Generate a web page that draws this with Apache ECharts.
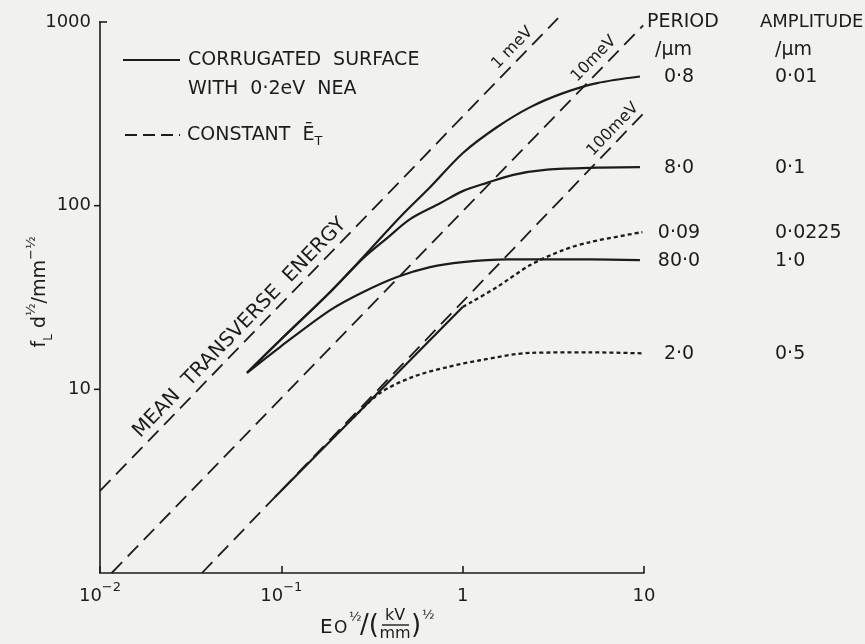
<!DOCTYPE html>
<html>
<head>
<meta charset="utf-8">
<script src="https://cdn.jsdelivr.net/npm/echarts@6/dist/echarts.min.js"></script>
<style>
  html, body { margin: 0; padding: 0; background: #f1f1ef; }
  #chart { width: 865px; height: 644px; }
</style>
</head>
<body>
<div id="chart"></div>
<script>
// Focusing frequency f_L d^1/2 against field E0^1/2, log-log.

// Axis ticks
const xTicks = [0.01, 0.1, 1, 10];
const xTickText = ['{b|10}{s|\u22122}', '{b|10}{s|\u22121}', '{b|1}', '{b|10}'];
const yTicks = [1, 10, 100, 1000];
const yTickText = ['', '10', '100', '1000'];
const yOuterTicks = [10, 100];

// Lines of constant mean transverse energy (end points)
const eT1meV = [[0.01, 2.8], [3.36, 1050]];
const eT10meV = [[0.0116, 1], [9.9, 960]];
const eT100meV = [[0.0365, 1], [10, 320]];
const eTNames = ['1 meV', '10meV', '100meV'];

// Corrugated surface with 0.2 eV NEA (solid)
const curvePeriod08 = [[0.0647, 12.3], [0.0984, 18.5], [0.186, 33.9], [0.283, 52.5], [0.452, 86.7],
  [0.661, 126], [1.0, 193], [1.55, 268], [2.36, 344], [3.58, 410], [5.51, 465], [9.5, 505]];
const curvePeriod8 = [[0.0647, 12.3], [0.0984, 18.5], [0.186, 33.9], [0.283, 51.8], [0.383, 66.6],
  [0.513, 84.5], [0.75, 103], [1.0, 120], [1.36, 133], [1.9, 147], [2.92, 157], [5.51, 161], [9.5, 162]];
const curvePeriod80 = [[0.0647, 12.3], [0.0984, 17.0], [0.186, 27.0], [0.283, 33.9], [0.435, 40.9],
  [0.661, 46.3], [1.0, 49.3], [1.76, 51.0], [5.05, 51.0], [9.5, 50.5]];

// Shared rising part of the two dotted curves, then their branches
const commonRise = [[0.0923, 2.59], [1.0, 28.1]];
const curvePeriod009 = [[1.0, 28.1], [1.1, 29.6], [1.55, 36.1], [2.36, 47.5], [3.58, 57.3], [5.05, 63.4], [9.8, 71.8]];
const curvePeriod2 = [[0.248, 6.96], [0.35, 9.55], [0.532, 11.7], [0.82, 13.2], [1.25, 14.4], [2.36, 15.8], [5.05, 15.9], [9.8, 15.7]];

// Table at the right-hand end of each curve
const periods = ['0\u00b78', '8\u00b70', '0\u00b709', '80\u00b70', '2\u00b70'];
const amplitudes = ['0\u00b701', '0\u00b71', '0\u00b70225', '1\u00b70', '0\u00b75'];

const FONT = '"DejaVu Sans", "Liberation Sans", sans-serif';
const INK = '#1c1c1c';

const chart = echarts.init(document.getElementById('chart'));

function dashed(name, data) {
  return {
    name, type: 'line', data, symbol: 'none', clip: false, silent: true,
    lineStyle: { color: INK, width: 1.8, type: [15, 8] }
  };
}
function solid(name, data, smooth) {
  return {
    name, type: 'line', data, symbol: 'none', silent: true,
    smooth: smooth ? 0.3 : false,
    lineStyle: { color: INK, width: 2.2, type: 'solid' }
  };
}
function dotted(name, data) {
  return {
    name, type: 'line', data, symbol: 'none', silent: true,
    smooth: 0.3,
    lineStyle: { color: INK, width: 2.3, type: [4, 3] }
  };
}

const curves = [curvePeriod08, curvePeriod8, curvePeriod009, curvePeriod80, curvePeriod2];

chart.setOption({
  animation: false,
  backgroundColor: '#f1f1ef',
  grid: { left: 100, right: 221, top: 22, bottom: 71, containLabel: false },
  xAxis: {
    type: 'log', logBase: 10, min: 0.01, max: 10,
    axisLine: { lineStyle: { color: INK, width: 1.6 } },
    axisTick: { inside: true, length: 7, lineStyle: { color: INK, width: 1.6 } },
    splitLine: { show: false },
    axisLabel: {
      margin: 8, color: INK, fontFamily: FONT,
      formatter: v => {
        const i = xTicks.findIndex(t => Math.abs(Math.log10(t) - Math.log10(v)) < 1e-6);
        return i >= 0 ? xTickText[i] : '';
      },
      rich: {
        b: { fontSize: 18, fontFamily: FONT, color: INK, lineHeight: 24, verticalAlign: 'bottom' },
        s: { fontSize: 13, fontFamily: FONT, color: INK, lineHeight: 14, verticalAlign: 'top' }
      }
    }
  },
  yAxis: {
    type: 'log', logBase: 10, min: 1, max: 1000,
    axisLine: { lineStyle: { color: INK, width: 1.6 } },
    axisTick: { show: false },
    splitLine: { show: false },
    axisLabel: {
      margin: 9, color: INK, fontFamily: FONT, fontSize: 18,
      formatter: v => {
        const i = yTicks.findIndex(t => Math.abs(Math.log10(t) - Math.log10(v)) < 1e-6);
        return i >= 0 ? yTickText[i] : '';
      }
    }
  },
  series: [
    dashed(eTNames[0], eT1meV),
    dashed(eTNames[1], eT10meV),
    dashed(eTNames[2], eT100meV),
    solid('0.8 / 0.01', curvePeriod08, true),
    solid('8.0 / 0.1', curvePeriod8, true),
    solid('80.0 / 1.0', curvePeriod80, true),
    solid('rise', commonRise, false),
    dotted('0.09 / 0.0225', curvePeriod009),
    dotted('2.0 / 0.5', curvePeriod2)
  ]
});

// Point on a straight (log-log) line at a given x
function onLine(pts, x) {
  const [a, b] = pts;
  const t = (Math.log10(x) - Math.log10(a[0])) / (Math.log10(b[0]) - Math.log10(a[0]));
  return [x, Math.pow(10, Math.log10(a[1]) + t * (Math.log10(b[1]) - Math.log10(a[1])))];
}
const toPx = p => chart.convertToPixel({ gridIndex: 0 }, p);

// Text laid along a line, offset to its upper-left side
function alongLine(pts, x, offset, text, fontSize) {
  const p0 = toPx(pts[0]), p1 = toPx(pts[1]);
  const ang = Math.atan2(p0[1] - p1[1], p1[0] - p0[0]);
  const c = toPx(onLine(pts, x));
  const nx = -Math.sin(ang), ny = -Math.cos(ang);
  return {
    type: 'text', x: c[0] + nx * offset, y: c[1] + ny * offset, rotation: ang, silent: true,
    style: { text, fill: INK, font: fontSize + 'px ' + FONT, align: 'center', verticalAlign: 'middle' }
  };
}

function label(text, x, y, size, align) {
  return {
    type: 'text', x, y, silent: true,
    style: { text, fill: INK, font: (size || 18) + 'px ' + FONT, align: align || 'left', verticalAlign: 'middle' }
  };
}

const g = [];

// Y axis ticks: outward at 10 and 100, a short inward cap at 1000
yOuterTicks.forEach(v => {
  const p = toPx([0.01, v]);
  g.push({ type: 'line', silent: true, shape: { x1: p[0] - 6, y1: p[1], x2: p[0], y2: p[1] }, style: { stroke: INK, lineWidth: 1.6 } });
});
const axisTop = toPx([0.01, 1000]);
g.push({ type: 'line', silent: true, shape: { x1: axisTop[0] - 1, y1: axisTop[1], x2: axisTop[0] + 7, y2: axisTop[1] }, style: { stroke: INK, lineWidth: 1.6 } });

// Line labels
g.push(alongLine(eT1meV, 0.0664, 13, 'MEAN  TRANSVERSE  ENERGY', 20));
g.push(alongLine(eT1meV, 2.1, 12, eTNames[0], 16));
g.push(alongLine(eT10meV, 5.9, 12, eTNames[1], 16));
g.push(alongLine(eT100meV, 7.45, 11, eTNames[2], 16));

// Legend
g.push({ type: 'line', silent: true, shape: { x1: 123, y1: 60, x2: 180, y2: 60 }, style: { stroke: INK, lineWidth: 2.2 } });
g.push(label('CORRUGATED  SURFACE', 188, 60, 19));
g.push(label('WITH  0\u00b72eV  NEA', 188, 89, 19));
g.push({ type: 'line', silent: true, shape: { x1: 125, y1: 135, x2: 180, y2: 135 }, style: { stroke: INK, lineWidth: 2, lineDash: [12, 6] } });
g.push({
  type: 'text', x: 187, y: 135, silent: true,
  style: {
    text: '{a|CONSTANT  \u0112}{t|T}', align: 'left', verticalAlign: 'middle',
    rich: {
      a: { fontSize: 19, fontFamily: FONT, fill: INK, lineHeight: 26, verticalAlign: 'middle' },
      t: { fontSize: 13, fontFamily: FONT, fill: INK, lineHeight: 14, verticalAlign: 'bottom' }
    }
  }
});

// Table header
g.push(label('PERIOD', 647, 22, 19));
g.push(label('AMPLITUDE', 760, 22, 18));
g.push(label('/\u00b5m', 655, 50, 19));
g.push(label('/\u00b5m', 775, 50, 19));

// Table rows placed at the end of each curve
curves.forEach((c, i) => {
  const end = toPx(c[c.length - 1]);
  g.push(label(periods[i], 679, end[1] + 1, 19, 'center'));
  g.push(label(amplitudes[i], 775, end[1] + 1, 19, 'left'));
});

// Y axis title
g.push({
  type: 'text', x: 40, y: 292, rotation: Math.PI / 2, silent: true,
  style: {
    text: '{a|f}{sub|L}{a| d}{sup|\u00bd}{a|/mm}{sup|\u2212\u00bd}', align: 'center', verticalAlign: 'middle',
    rich: {
      a: { fontSize: 19, fontFamily: FONT, fill: INK, lineHeight: 30, verticalAlign: 'middle' },
      sub: { fontSize: 12, fontFamily: FONT, fill: INK, lineHeight: 12, verticalAlign: 'bottom' },
      sup: { fontSize: 13, fontFamily: FONT, fill: INK, lineHeight: 14, verticalAlign: 'top' }
    }
  }
});

// X axis title: Eo^1/2 / (kV/mm)^1/2 with a stacked fraction
g.push({
  type: 'group', x: 320, y: 624, silent: true,
  children: [
    { type: 'text', x: 0, y: 4, style: { text: 'E', fill: INK, font: '20px ' + FONT, align: 'left', verticalAlign: 'middle' } },
    { type: 'text', x: 14, y: 5, style: { text: 'O', fill: INK, font: '17px ' + FONT, align: 'left', verticalAlign: 'middle' } },
    { type: 'text', x: 29, y: -6, style: { text: '\u00bd', fill: INK, font: '13px ' + FONT, align: 'left', verticalAlign: 'middle' } },
    { type: 'text', x: 40, y: 2, style: { text: '/(', fill: INK, font: '26px ' + FONT, align: 'left', verticalAlign: 'middle' } },
    { type: 'text', x: 75, y: -8, style: { text: 'kV', fill: INK, font: '16px ' + FONT, align: 'center', verticalAlign: 'middle' } },
    { type: 'line', shape: { x1: 62, y1: 1, x2: 89, y2: 1 }, style: { stroke: INK, lineWidth: 1.4 } },
    { type: 'text', x: 75, y: 10, style: { text: 'mm', fill: INK, font: '16px ' + FONT, align: 'center', verticalAlign: 'middle' } },
    { type: 'text', x: 91, y: 2, style: { text: ')', fill: INK, font: '26px ' + FONT, align: 'left', verticalAlign: 'middle' } },
    { type: 'text', x: 102, y: -8, style: { text: '\u00bd', fill: INK, font: '13px ' + FONT, align: 'left', verticalAlign: 'middle' } }
  ]
});

chart.setOption({ graphic: g });
</script>
</body>
</html>
